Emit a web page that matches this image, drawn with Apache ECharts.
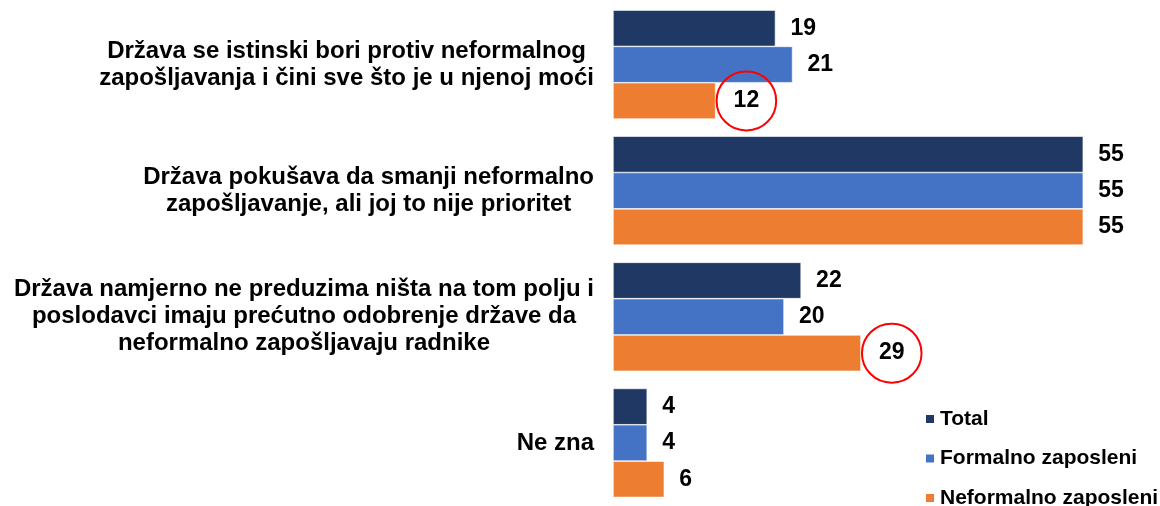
<!DOCTYPE html>
<html>
<head>
<meta charset="utf-8">
<title>Neformalno zapošljavanje</title>
<script src="https://cdn.jsdelivr.net/npm/echarts@6/dist/echarts.min.js"></script>
<style>
    html, body { margin: 0; padding: 0; background: #fff; }
    #chart { width: 1160px; height: 506px; }
</style>
</head>
<body>
<div id="chart"></div>
<script>
var categories = [
    'Država se istinski bori protiv neformalnog\nzapošljavanja i čini sve što je u njenoj moći',
    'Država pokušava da smanji neformalno\nzapošljavanje, ali joj to nije prioritet',
    'Država namjerno ne preduzima ništa na tom polju i\nposlodavci imaju prećutno odobrenje države da\nneformalno zapošljavaju radnike',
    'Ne zna'
];
var seriesNames = ['Total', 'Formalno zaposleni', 'Neformalno zaposleni'];
var total = [19, 55, 22, 4];
var formalno = [21, 55, 20, 4];
var neformalno = [12, 55, 29, 6];
// values circled in red: [series index, category index]
var circled = [[2, 0], [2, 2]];

var font = "'Liberation Sans', Arial, sans-serif";
var colors = ['#203864', '#4472C4', '#ED7D31'];

function buildData(values, sIdx) {
    return values.map(function (v, cIdx) {
        var hit = circled.some(function (c) { return c[0] === sIdx && c[1] === cIdx; });
        if (!hit) return v;
        return {
            value: v,
            label: {
                distance: 1,
                borderColor: '#FF0000',
                borderWidth: 2,
                borderRadius: 30,
                padding: [19, 17, 17, 17]
            }
        };
    });
}

var chart = echarts.init(document.getElementById('chart'));
var allValues = [total, formalno, neformalno];

chart.setOption({
    animation: false,
    color: colors,
    grid: { left: 613, right: 34, top: 1.5, bottom: 0, containLabel: false },
    legend: {
        orient: 'vertical',
        left: 924,
        top: 408,
        height: 160,
        padding: 0,
        icon: 'rect',
        itemWidth: 10,
        itemHeight: 10,
        itemGap: 17.5,
        selectedMode: false,
        textStyle: { fontFamily: font, fontSize: 21, fontWeight: 'bold', color: '#000', lineHeight: 22 },
        data: seriesNames
    },
    xAxis: {
        type: 'value',
        min: 0,
        max: 60,
        show: false
    },
    yAxis: {
        type: 'category',
        inverse: true,
        data: categories,
        axisLine: { show: false },
        axisTick: { show: false },
        axisLabel: {
            margin: 19,
            formatter: function (val) {
                return val.split('\n').map(function (l) { return '{c|' + l + '}'; }).join('\n');
            },
            rich: {
                c: { align: 'center', fontFamily: font, fontSize: 24, fontWeight: 'bold', color: '#000', lineHeight: 27 }
            }
        }
    },
    series: allValues.map(function (vals, i) {
        return {
            name: seriesNames[i],
            type: 'bar',
            barGap: '0%',
            barCategoryGap: '13.6%',
            itemStyle: { color: colors[i], borderColor: '#ffffff', borderWidth: 0.6 },
            label: {
                show: true,
                position: 'right',
                distance: 15,
                fontFamily: font,
                fontSize: 23,
                fontWeight: 'bold',
                color: '#000',
                lineHeight: 23
            },
            data: buildData(vals, i)
        };
    })
});
</script>
</body>
</html>
